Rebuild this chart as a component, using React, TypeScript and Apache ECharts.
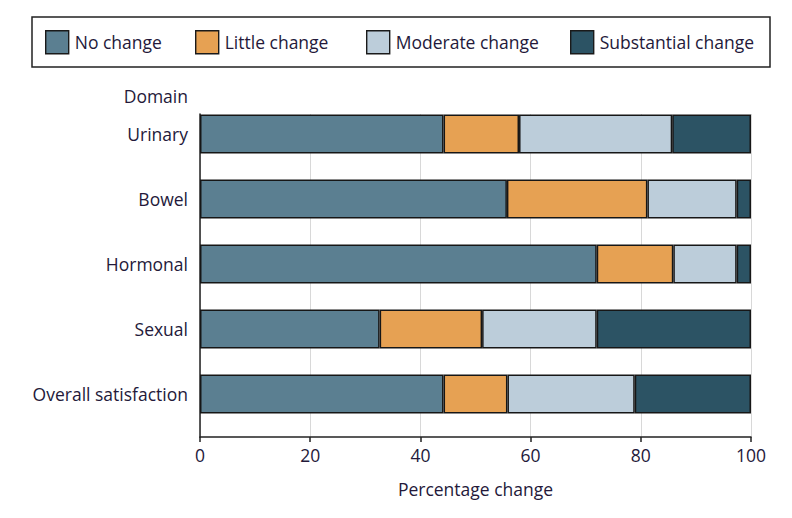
import React, { useEffect, useRef } from "react";
import * as echarts from "echarts";

const categories = ["Urinary", "Bowel", "Hormonal", "Sexual", "Overall satisfaction"];
const seriesNames = ["No change", "Little change", "Moderate change", "Substantial change"];
const noChange = [44.2, 55.7, 72.0, 32.6, 44.2];
const littleChange = [13.7, 25.5, 13.9, 18.6, 11.6];
const moderateChange = [27.8, 16.2, 11.5, 20.8, 23.1];
const substantialChange = [14.3, 2.6, 2.6, 28.0, 21.1];
const xTicks = [0, 20, 40, 60, 80, 100];

const colors = ["#5b7f91", "#e6a153", "#bccdda", "#2c5364"];
const TEXT = "#24193a";
const FONT = "Open Sans";
const FS = 17.5;

export default function App() {
  const ref = useRef<HTMLDivElement>(null);
  useEffect(() => {
    if (!ref.current) return;
    document.body.style.margin = "0";
    const chart = echarts.init(ref.current, undefined, { renderer: "svg" });
    const values = [noChange, littleChange, moderateChange, substantialChange];
    const legendLefts = [45, 195, 366, 570];
    chart.setOption({
      animation: false,
      backgroundColor: "#ffffff",
      textStyle: { fontFamily: FONT, color: TEXT },
      graphic: [
        {
          type: "rect",
          shape: { x: 32, y: 17, width: 738, height: 50 },
          style: { fill: "none", stroke: "#222", lineWidth: 1.5 },
        },
        {
          type: "text",
          x: 188,
          y: 96,
          style: {
            text: "Domain",
            fill: TEXT,
            font: `${FS}px "${FONT}"`,
            textAlign: "right",
            textVerticalAlign: "middle",
          },
        },
      ],
      legend: seriesNames.map((n, i) => ({
        data: [n],
        left: legendLefts[i],
        top: 30,
        padding: 0,
        itemWidth: 23,
        itemHeight: 23,
        icon: "rect",
        itemStyle: { borderColor: "#1a1a1a", borderWidth: 1.4 },
        textStyle: { fontFamily: FONT, fontSize: FS, color: TEXT, padding: [0, 0, 0, 1] },
        selectedMode: false,
      })),
      grid: [
        { left: 200, right: 41, top: 114, bottom: 81 },
        { left: 200, right: 41, top: 101.5, bottom: 91.5 },
      ],
      xAxis: [
        {
          gridIndex: 0,
          type: "value",
          min: 0,
          max: 100,
          interval: 20,
          axisLine: { show: true, lineStyle: { color: "#222", width: 1.5 } },
          axisTick: { show: true, length: 5, lineStyle: { color: "#222", width: 1.5 } },
          axisLabel: {
            fontFamily: FONT,
            fontSize: FS,
            color: TEXT,
            margin: 9,
            formatter: (v: number) => (xTicks.includes(v) ? String(v) : ""),
          },
          splitLine: { show: true, lineStyle: { color: "#d8d8d8", width: 1 } },
          name: "Percentage change",
          nameLocation: "middle",
          nameGap: 43,
          nameTextStyle: { fontFamily: FONT, fontSize: FS, color: TEXT },
        },
        {
          gridIndex: 1,
          type: "value",
          min: 0,
          max: 100,
          show: false,
        },
      ],
      yAxis: [
        {
          gridIndex: 0,
          type: "value",
          min: 0,
          max: 1,
          axisLine: { show: true, lineStyle: { color: "#222", width: 1.5 } },
          axisTick: { show: false },
          axisLabel: { show: false },
          splitLine: { show: false },
        },
        {
          gridIndex: 1,
          type: "category",
          data: categories,
          inverse: true,
          axisLine: { show: false },
          axisTick: { show: false },
          axisLabel: { fontFamily: FONT, fontSize: FS, color: TEXT, margin: 12 },
          splitLine: { show: false },
        },
      ],
      series: seriesNames.map((n, i) => ({
        name: n,
        type: "bar",
        stack: "total",
        xAxisIndex: 1,
        yAxisIndex: 1,
        barWidth: 39,
        data: values[i],
        itemStyle: { color: colors[i], borderColor: "#161616", borderWidth: 1.5 },
        z: 3,
      })),
    });
    return () => chart.dispose();
  }, []);
  return <div ref={ref} style={{ width: 792, height: 518 }} />;
}
